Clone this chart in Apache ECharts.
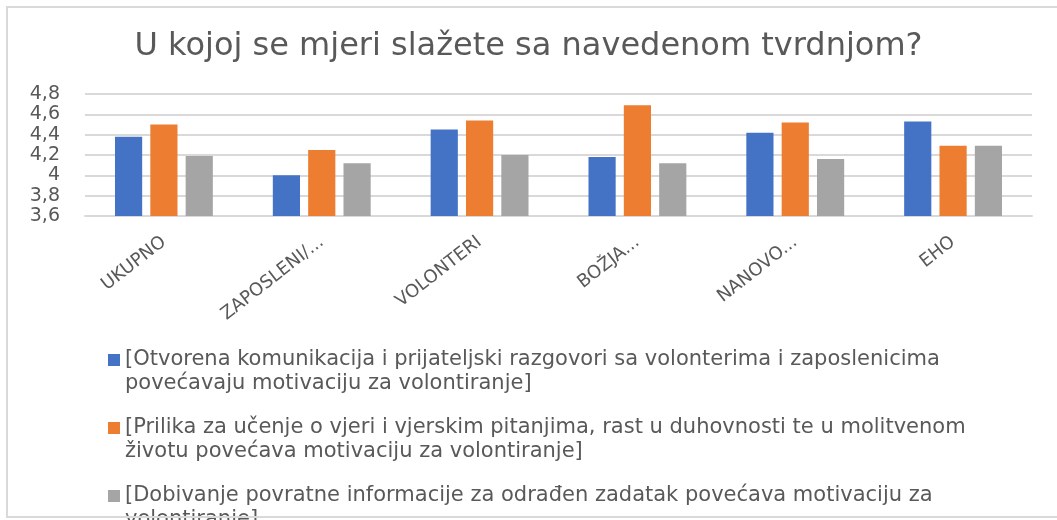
<!DOCTYPE html>
<html>
<head>
<meta charset="utf-8">
<script src="https://cdn.jsdelivr.net/npm/echarts@6/dist/echarts.min.js"></script>
<style>
  html, body { margin: 0; padding: 0; background: #fff; overflow: hidden; }
  #chart { width: 1057px; height: 520px; }
  /* okvir grafikona (lijevo, gore, dolje; desni rub izvan slike) */
  #frame {
    position: absolute; left: 6px; top: 6px; width: 1051px; height: 512px;
    border: 2px solid #d9d9d9; border-right: none; box-sizing: border-box; pointer-events: none;
  }
</style>
</head>
<body>
<div id="chart"></div>
<div id="frame"></div>
<script>
// kategorije na x osi (skraćene kao na slici)
const categories = ['UKUPNO', 'ZAPOSLENI/...', 'VOLONTERI', 'BOŽJA...', 'NANOVO...', 'EHO']

// nazivi serija (legenda)
const seriesNames = [
  '[Otvorena komunikacija i prijateljski razgovori sa volonterima i zaposlenicima povećavaju motivaciju za volontiranje]',
  '[Prilika za učenje o vjeri i vjerskim pitanjima, rast u duhovnosti te u molitvenom životu povećava motivaciju za volontiranje]',
  '[Dobivanje povratne informacije za odrađen zadatak povećava motivaciju za volontiranje]',
]

// prosječne ocjene po seriji
const komunikacija = [4.38, 4.0, 4.45, 4.18, 4.42, 4.53]
const duhovnost = [4.5, 4.25, 4.54, 4.69, 4.52, 4.29]
const povratna = [4.19, 4.12, 4.2, 4.12, 4.16, 4.29]

const colors = ['#4472C4', '#ED7D31', '#A5A5A5']
const font = 'DejaVu Sans'

// kvadratić legende poravnat s prvim retkom (prazni dio ispod samo proširuje okvir)
const legendIcon = 'path://M0,0L12,0L12,12L0,12Z M0,36L0.01,36Z'

const chart = echarts.init(document.getElementById('chart'), null, { renderer: 'canvas' })

const option = {
  animation: false,
  color: colors,
  title: {
    text: 'U kojoj se mjeri slažete sa navedenom tvrdnjom?',
    left: 'center',
    top: 26,
    textStyle: { fontFamily: font, fontSize: 32, fontWeight: 'normal', color: '#595959' },
  },
  grid: { left: 85, right: 25, top: 94, bottom: 304 },
  legend: {
    orient: 'vertical',
    left: 103,
    top: 343,
    height: 400,
    itemWidth: 12,
    itemHeight: 36,
    itemGap: 20,
    icon: legendIcon,
    textStyle: {
      fontFamily: font, fontSize: 21, color: '#595959',
      lineHeight: 24, width: 880, overflow: 'break',
    },
  },
  xAxis: {
    type: 'category',
    data: categories,
    axisTick: { show: false },
    axisLine: { lineStyle: { color: '#d9d9d9', width: 2 } },
    axisLabel: {
      rotate: 38,
      margin: 24,
      fontFamily: font, fontSize: 18, color: '#595959',
    },
  },
  yAxis: {
    type: 'value',
    min: 3.6,
    max: 4.8,
    interval: 0.2,
    axisLine: { show: false },
    axisTick: { show: false },
    splitLine: { lineStyle: { color: '#d9d9d9', width: 2 } },
    axisLabel: {
      margin: 25,
      fontFamily: font, fontSize: 19, color: '#595959',
      formatter: (v) => String(+v.toFixed(1)).replace('.', ','),
    },
  },
  series: [komunikacija, duhovnost, povratna].map((data, i) => ({
    name: seriesNames[i],
    type: 'bar',
    data,
    barGap: '30%',
    barCategoryGap: '38%',
  })),
}

chart.setOption(option)
</script>
</body>
</html>
